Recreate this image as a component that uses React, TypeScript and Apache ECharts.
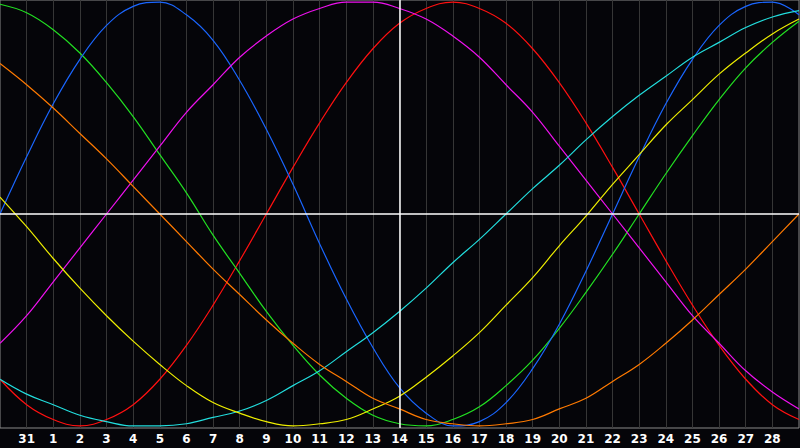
import { useEffect, useRef } from 'react';
import * as echarts from 'echarts';

// day labels: first and last columns are the edges of the plot (not labelled)
const days = [
  '30', '31', '1', '2', '3', '4', '5', '6', '7', '8', '9', '10', '11', '12', '13', '14',
  '15', '16', '17', '18', '19', '20', '21', '22', '23', '24', '25', '26', '27', '28', '1',
];
const today = '14';

// cycle values (percent), one per day column
const physical = [0, 27, 52, 73, 89, 98, 100, 94, 82, 63, 40, 14, -14, -40, -63, -82, -94, -100, -98, -89, -73, -52, -27, 0, 27, 52, 73, 89, 98, 100, 94];
const emotional = [-78, -90, -97, -100, -97, -90, -78, -62, -43, -22, 0, 22, 43, 62, 78, 90, 97, 100, 97, 90, 78, 62, 43, 22, 0, -22, -43, -62, -78, -90, -97];
const intellectual = [99, 95, 87, 76, 62, 46, 28, 10, -10, -28, -46, -62, -76, -87, -95, -99, -100, -97, -91, -81, -69, -54, -37, -19, 0, 19, 37, 54, 69, 81, 91];
const intuitive = [-61, -48, -32, -16, 0, 16, 32, 48, 61, 74, 84, 92, 97, 100, 100, 97, 92, 84, 74, 61, 48, 32, 16, 0, -16, -32, -48, -61, -74, -84, -92];
const spiritual = [-78, -85, -90, -95, -98, -100, -100, -99, -96, -93, -88, -81, -74, -65, -56, -46, -35, -23, -12, 0, 12, 23, 35, 46, 56, 65, 74, 81, 88, 93, 96];
const aesthetic = [8, -6, -21, -35, -48, -60, -71, -81, -89, -94, -98, -100, -99, -97, -92, -86, -77, -67, -56, -43, -30, -15, -1, 14, 28, 42, 54, 66, 76, 85, 92];
const awareness = [71, 61, 50, 38, 26, 13, 0, -13, -26, -38, -50, -61, -71, -79, -87, -92, -97, -99, -100, -99, -97, -92, -87, -79, -71, -61, -50, -38, -26, -13, 0];

const cycles: { name: string; color: string; values: number[] }[] = [
  { name: 'Emotional', color: '#ff1010', values: emotional },
  { name: 'Intellectual', color: '#22e022', values: intellectual },
  { name: 'Physical', color: '#1a66ff', values: physical },
  { name: 'Intuitive', color: '#ee11ee', values: intuitive },
  { name: 'Spiritual', color: '#22dddd', values: spiritual },
  { name: 'Aesthetic', color: '#eeee00', values: aesthetic },
  { name: 'Awareness', color: '#ff7a00', values: awareness },
];

export default function App() {
  const ref = useRef<HTMLDivElement | null>(null);

  useEffect(() => {
    if (!ref.current) return;
    const chart = echarts.init(ref.current, undefined, { renderer: 'svg' });
    const last = days.length - 1;

    chart.setOption({
      animation: false,
      backgroundColor: '#050509',
      grid: {
        left: 0,
        right: 1,
        top: 0,
        bottom: 20,
        show: true,
        borderColor: '#8a8a8a',
        borderWidth: 1,
      },
      xAxis: {
        type: 'category',
        data: days,
        boundaryGap: false,
        axisLine: { show: false },
        axisTick: { show: false },
        axisLabel: {
          interval: (i: number) => i > 0 && i < last,
          color: '#ffffff',
          fontWeight: 'bold',
          fontSize: 12,
          fontFamily: 'DejaVu Sans',
          margin: 5,
        },
        splitLine: {
          show: true,
          interval: (i: number) => i > 0 && i < last,
          lineStyle: { color: '#363636', width: 1 },
        },
      },
      yAxis: {
        type: 'value',
        min: -101,
        max: 101,
        show: false,
        splitLine: { show: false },
      },
      series: cycles.map((c, k) => ({
        name: c.name,
        type: 'line',
        data: c.values,
        smooth: 0.4,
        showSymbol: false,
        symbol: 'none',
        lineStyle: { color: c.color, width: 1.2 },
        itemStyle: { color: c.color },
        ...(k === 0
          ? {
              markLine: {
                silent: true,
                symbol: 'none',
                label: { show: false },
                lineStyle: { color: '#ffffff', width: 1.5, type: 'solid' },
                data: [{ yAxis: 0 }, { xAxis: today }],
              },
            }
          : {}),
      })),
    });

    return () => {
      chart.dispose();
    };
  }, []);

  return (
    <div
      ref={ref}
      style={{ position: 'fixed', left: 0, top: 0, width: 800, height: 448 }}
    />
  );
}
